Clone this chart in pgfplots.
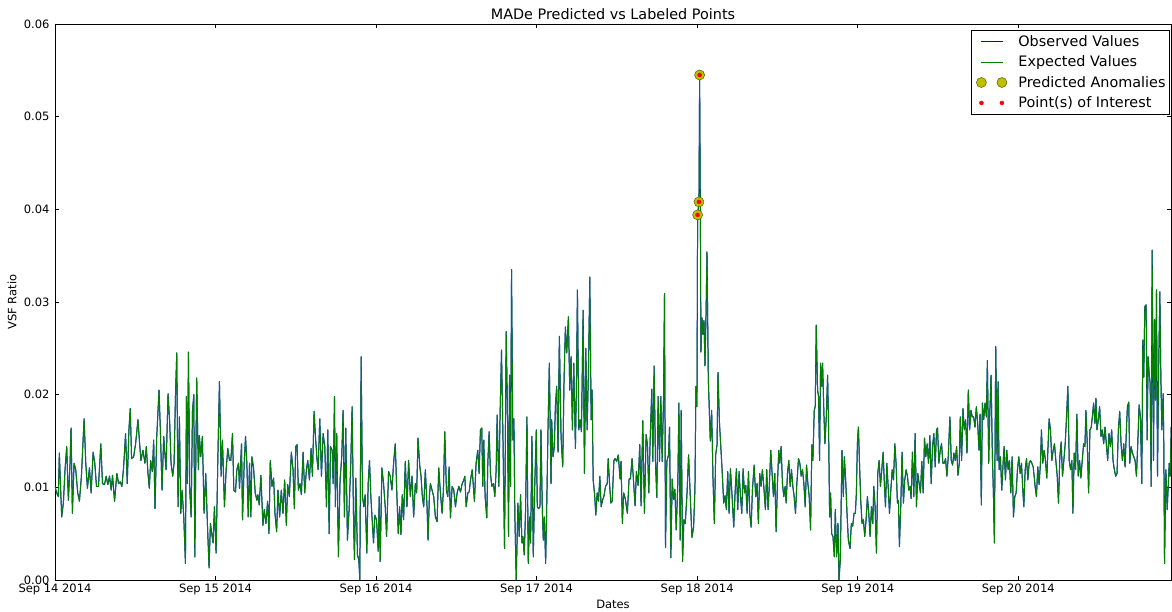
\documentclass[border=0pt]{standalone}
\usepackage{fontspec}
\setmainfont{DejaVu Sans}
\usepackage{pgfplots}
\usepackage{pgfplotstable}
\pgfplotsset{compat=1.18}
\definecolor{obsblue}{HTML}{0000FF}
\definecolor{expgreen}{HTML}{008000}
\definecolor{anomy}{HTML}{BFBF00}
\definecolor{anomedge}{HTML}{5A5A00}
\definecolor{poired}{HTML}{FF0000}
\pgfplotsset{
  linelegend/.style={legend image code/.code={\node[inner sep=0pt,minimum size=0pt] at (-8pt,0pt) {}; \node[inner sep=0pt,minimum size=0pt] at (32pt,0pt) {}; \draw[##1] (0pt,0pt) -- (21.6pt,0pt);}},
  marklegend/.style={legend image code/.code={\node[inner sep=0pt,minimum size=0pt] at (-8pt,0pt) {}; \node[inner sep=0pt,minimum size=0pt] at (32pt,0pt) {}; \draw[##1, only marks] plot coordinates {(0.5pt,0pt) (21pt,0pt)};}},
}
% time in minutes since Sep 14 2014 00:00, VSF ratio
\pgfplotstableread{
t v
0 0.0101
15 0.0094
30 0.0090
39 0.0137
60 0.0068
75 0.0083
90 0.0119
105 0.0144
120 0.0086
135 0.0126
144 0.0164
156 0.0072
171 0.0126
186 0.0119
204 0.0094
219 0.0085
237 0.0112
261 0.0174
276 0.0126
291 0.0099
309 0.0121
324 0.0094
342 0.0138
357 0.0126
372 0.0101
390 0.0101
411 0.0147
426 0.0104
444 0.0103
459 0.0112
474 0.0103
489 0.0112
504 0.0097
516 0.0113
534 0.0085
555 0.0115
570 0.0104
585 0.0106
600 0.0101
615 0.0121
633 0.0158
648 0.0104
663 0.0162
675 0.0185
687 0.0131
705 0.0133
723 0.0147
744 0.0173
759 0.0147
771 0.0129
789 0.0140
807 0.0126
819 0.0144
834 0.0115
846 0.0099
858 0.0129
873 0.0117
885 0.0151
897 0.0077
912 0.0153
933 0.0205
945 0.0162
960 0.0097
975 0.0155
996 0.0119
1014 0.0201
1029 0.0169
1041 0.0126
1056 0.0112
1068 0.0126
1080 0.0196
1092 0.0245
1104 0.0079
1116 0.0176
1128 0.0072
1140 0.0097
1155 0.0068
1170 0.0018
1179 0.0198
1188 0.0104
1197 0.0246
1209 0.0097
1221 0.0068
1233 0.0182
1245 0.0200
1254 0.0025
1271 0.0218
1286 0.0119
1295 0.0156
1307 0.0133
1322 0.0155
1337 0.0072
1352 0.0115
1367 0.0061
1382 0.0013
1394 0.0061
1406 0.0050
1418 0.0040
1430 0.0079
1445 0.0029
1460 0.0126
1475 0.0214
1490 0.0112
1502 0.0151
1520 0.0079
1535 0.0119
1550 0.0142
1565 0.0129
1577 0.0129
1592 0.0158
1604 0.0097
1619 0.0095
1631 0.0119
1646 0.0126
1655 0.0099
1673 0.0147
1682 0.0065
1697 0.0126
1709 0.0155
1721 0.0126
1733 0.0068
1745 0.0126
1757 0.0068
1766 0.0133
1781 0.0121
1796 0.0094
1811 0.0086
1820 0.0092
1832 0.0081
1847 0.0113
1865 0.0059
1877 0.0076
1892 0.0061
1907 0.0085
1919 0.0050
1931 0.0129
1946 0.0101
1961 0.0110
1973 0.0072
1988 0.0052
2000 0.0097
2015 0.0068
2030 0.0097
2045 0.0072
2060 0.0108
2075 0.0059
2087 0.0103
2102 0.0090
2120 0.0138
2135 0.0119
2147 0.0077
2159 0.0144
2171 0.0146
2183 0.0097
2198 0.0104
2210 0.0092
2225 0.0138
2240 0.0094
2255 0.0119
2267 0.0129
2282 0.0108
2297 0.0142
2309 0.0112
2324 0.0182
2336 0.0155
2351 0.0129
2360 0.0119
2375 0.0174
2390 0.0112
2405 0.0158
2420 0.0144
2435 0.0079
2447 0.0162
2459 0.0050
2471 0.0144
2486 0.0140
2495 0.0104
2507 0.0198
2515 0.0079
2527 0.0158
2542 0.0025
2557 0.0108
2572 0.0133
2584 0.0183
2596 0.0068
2608 0.0164
2623 0.0043
2638 0.0076
2653 0.0126
2665 0.0187
2677 0.0072
2686 0.0022
2698 0.0110
2713 0.0027
2725 0.0022
2734 0.0000
2746 0.0241
2758 0.0090
2770 0.0079
2782 0.0092
2797 0.0029
2809 0.0104
2821 0.0129
2833 0.0090
2845 0.0065
2857 0.0040
2869 0.0070
2884 0.0065
2899 0.0031
2908 0.0090
2917 0.0020
2932 0.0121
2947 0.0104
2962 0.0079
2974 0.0047
2992 0.0117
3007 0.0112
3022 0.0097
3037 0.0126
3052 0.0147
3067 0.0090
3079 0.0050
3091 0.0079
3103 0.0049
3115 0.0092
3127 0.0065
3142 0.0128
3157 0.0079
3172 0.0129
3187 0.0090
3202 0.0112
3217 0.0068
3232 0.0104
3244 0.0094
3256 0.0153
3271 0.0124
3283 0.0112
3295 0.0090
3307 0.0079
3322 0.0119
3337 0.0079
3346 0.0043
3358 0.0090
3367 0.0104
3382 0.0097
3397 0.0090
3412 0.0068
3427 0.0063
3442 0.0121
3457 0.0094
3472 0.0072
3484 0.0097
3496 0.0160
3511 0.0097
3523 0.0090
3535 0.0122
3547 0.0067
3562 0.0101
3577 0.0097
3592 0.0079
3607 0.0094
3622 0.0101
3637 0.0095
3652 0.0104
3667 0.0108
3676 0.0112
3688 0.0079
3703 0.0094
3715 0.0095
3727 0.0108
3742 0.0119
3757 0.0094
3762 0.0085
3777 0.0126
3792 0.0140
3804 0.0115
3816 0.0162
3828 0.0164
3837 0.0101
3846 0.0151
3858 0.0090
3873 0.0067
3882 0.0126
3894 0.0160
3906 0.0115
3918 0.0101
3933 0.0104
3945 0.0090
3957 0.0119
3966 0.0178
3981 0.0101
3993 0.0183
4005 0.0248
4017 0.0162
4032 0.0034
4047 0.0268
4059 0.0176
4068 0.0047
4077 0.0221
4086 0.0101
4095 0.0335
4107 0.0151
4116 0.0174
4125 0.0068
4137 0.0000
4152 0.0083
4164 0.0047
4176 0.0092
4188 0.0040
4197 0.0047
4209 0.0027
4221 0.0076
4233 0.0176
4245 0.0018
4257 0.0068
4266 0.0040
4278 0.0155
4290 0.0025
4302 0.0097
4317 0.0162
4326 0.0079
4338 0.0077
4350 0.0079
4359 0.0162
4371 0.0076
4380 0.0043
4389 0.0068
4401 0.0018
4410 0.0076
4422 0.0162
4434 0.0234
4449 0.0104
4455 0.0173
4467 0.0133
4479 0.0144
4488 0.0187
4500 0.0209
4512 0.0138
4524 0.0263
4539 0.0155
4554 0.0122
4566 0.0216
4578 0.0273
4590 0.0245
4605 0.0284
4617 0.0205
4629 0.0241
4641 0.0162
4653 0.0234
4668 0.0142
4677 0.0209
4686 0.0313
4698 0.0162
4710 0.0173
4722 0.0160
4737 0.0291
4749 0.0115
4761 0.0250
4773 0.0162
4785 0.0227
4797 0.0327
4809 0.0173
4818 0.0205
4827 0.0108
4839 0.0094
4851 0.0070
4863 0.0094
4875 0.0085
4887 0.0112
4899 0.0079
4911 0.0086
4923 0.0090
4938 0.0101
4953 0.0104
4962 0.0131
4974 0.0104
4986 0.0083
4998 0.0085
5013 0.0129
5023 0.0131
5038 0.0128
5053 0.0135
5068 0.0109
5077 0.0128
5089 0.0061
5101 0.0094
5116 0.0087
5134 0.0072
5149 0.0109
5161 0.0109
5176 0.0131
5188 0.0109
5203 0.0080
5215 0.0117
5230 0.0102
5245 0.0146
5257 0.0080
5272 0.0172
5287 0.0072
5302 0.0157
5314 0.0146
5326 0.0094
5338 0.0150
5353 0.0206
5362 0.0128
5374 0.0231
5386 0.0128
5398 0.0089
5410 0.0198
5422 0.0128
5434 0.0198
5446 0.0128
5458 0.0194
5467 0.0309
5476 0.0035
5488 0.0128
5503 0.0135
5512 0.0165
5524 0.0024
5536 0.0109
5548 0.0087
5560 0.0098
5572 0.0054
5587 0.0106
5596 0.0191
5608 0.0043
5617 0.0183
5629 0.0020
5641 0.0065
5653 0.0061
5668 0.0091
5683 0.0135
5698 0.0091
5713 0.0046
5728 0.0057
5740 0.0098
5749 0.0209
5758 0.0187
5764 0.0394
5776 0.0408
5782 0.0545
5788 0.0413
5794 0.0246
5803 0.0283
5812 0.0265
5821 0.0280
5830 0.0231
5839 0.0283
5848 0.0354
5860 0.0217
5869 0.0183
5878 0.0150
5890 0.0183
5902 0.0109
5914 0.0061
5926 0.0135
5938 0.0146
5947 0.0224
5959 0.0172
5971 0.0146
5983 0.0120
5998 0.0083
6010 0.0091
6022 0.0076
6034 0.0117
6046 0.0072
6058 0.0120
6073 0.0091
6088 0.0057
6100 0.0094
6112 0.0120
6124 0.0076
6136 0.0117
6148 0.0091
6160 0.0072
6172 0.0120
6184 0.0094
6196 0.0102
6208 0.0072
6220 0.0117
6232 0.0072
6244 0.0057
6256 0.0098
6271 0.0124
6285 0.0090
6297 0.0104
6309 0.0061
6321 0.0115
6333 0.0101
6345 0.0119
6360 0.0097
6372 0.0076
6384 0.0119
6396 0.0076
6408 0.0104
6420 0.0140
6432 0.0115
6444 0.0090
6456 0.0115
6468 0.0052
6480 0.0104
6492 0.0140
6501 0.0126
6513 0.0144
6525 0.0104
6537 0.0090
6549 0.0101
6558 0.0083
6570 0.0115
6582 0.0129
6594 0.0101
6606 0.0119
6618 0.0101
6630 0.0090
6642 0.0072
6654 0.0104
6669 0.0131
6681 0.0126
6693 0.0112
6705 0.0119
6717 0.0104
6729 0.0079
6741 0.0124
6753 0.0104
6765 0.0090
6777 0.0054
6789 0.0146
6798 0.0129
6810 0.0183
6819 0.0187
6828 0.0275
6840 0.0205
6849 0.0198
6858 0.0129
6867 0.0234
6876 0.0209
6885 0.0234
6897 0.0179
6906 0.0147
6918 0.0176
6930 0.0221
6939 0.0162
6948 0.0068
6957 0.0094
6966 0.0050
6978 0.0047
6990 0.0025
6999 0.0076
7011 0.0025
7023 0.0061
7032 0.0000
7044 0.0022
7059 0.0140
7071 0.0090
7080 0.0133
7092 0.0108
7104 0.0072
7116 0.0043
7131 0.0034
7143 0.0061
7155 0.0058
7167 0.0072
7179 0.0072
7188 0.0094
7197 0.0147
7206 0.0165
7218 0.0119
7227 0.0086
7239 0.0061
7251 0.0065
7263 0.0047
7275 0.0065
7287 0.0090
7299 0.0072
7311 0.0047
7323 0.0079
7335 0.0061
7344 0.0101
7356 0.0079
7368 0.0029
7380 0.0115
7392 0.0129
7404 0.0101
7416 0.0119
7428 0.0138
7440 0.0101
7449 0.0079
7461 0.0126
7473 0.0101
7485 0.0072
7497 0.0097
7509 0.0119
7521 0.0108
7533 0.0147
7544 0.0126
7556 0.0083
7565 0.0086
7574 0.0036
7586 0.0079
7598 0.0138
7610 0.0083
7622 0.0108
7634 0.0119
7646 0.0112
7658 0.0097
7670 0.0101
7679 0.0088
7691 0.0138
7703 0.0090
7715 0.0158
7727 0.0079
7739 0.0115
7751 0.0104
7763 0.0094
7775 0.0128
7787 0.0094
7799 0.0153
7811 0.0133
7823 0.0147
7835 0.0126
7847 0.0156
7859 0.0104
7871 0.0144
7883 0.0158
7895 0.0122
7907 0.0162
7916 0.0164
7928 0.0126
7940 0.0140
7952 0.0147
7964 0.0126
7976 0.0126
7988 0.0131
8000 0.0112
8012 0.0133
8027 0.0176
8039 0.0129
8051 0.0124
8063 0.0137
8075 0.0129
8087 0.0144
8099 0.0113
8111 0.0126
8120 0.0176
8132 0.0129
8144 0.0185
8156 0.0162
8168 0.0173
8180 0.0137
8192 0.0205
8204 0.0162
8216 0.0183
8228 0.0176
8240 0.0176
8252 0.0165
8264 0.0187
8276 0.0169
8288 0.0140
8297 0.0179
8309 0.0081
8318 0.0191
8330 0.0173
8342 0.0191
8354 0.0176
8363 0.0237
8375 0.0126
8384 0.0176
8396 0.0221
8408 0.0133
8417 0.0094
8426 0.0040
8438 0.0252
8450 0.0129
8459 0.0214
8468 0.0119
8480 0.0133
8492 0.0097
8504 0.0126
8513 0.0144
8525 0.0108
8537 0.0140
8549 0.0119
8561 0.0129
8573 0.0094
8585 0.0133
8597 0.0068
8609 0.0090
8621 0.0094
8633 0.0119
8645 0.0133
8657 0.0115
8669 0.0126
8681 0.0097
8690 0.0079
8702 0.0119
8714 0.0131
8726 0.0108
8738 0.0126
8750 0.0129
8762 0.0126
8774 0.0122
8786 0.0108
8791 0.0101
8803 0.0090
8815 0.0122
8827 0.0103
8839 0.0126
8848 0.0162
8860 0.0126
8872 0.0140
8884 0.0129
8896 0.0110
8908 0.0147
8917 0.0174
8929 0.0162
8941 0.0129
8953 0.0140
8965 0.0147
8977 0.0129
8989 0.0113
9001 0.0083
9013 0.0133
9025 0.0149
9037 0.0112
9049 0.0129
9061 0.0147
9073 0.0176
9085 0.0209
9097 0.0129
9109 0.0119
9121 0.0129
9130 0.0072
9142 0.0137
9154 0.0119
9166 0.0179
9178 0.0112
9190 0.0129
9202 0.0110
9214 0.0129
9226 0.0147
9238 0.0144
9247 0.0183
9259 0.0147
9271 0.0094
9283 0.0162
9295 0.0165
9307 0.0179
9316 0.0191
9328 0.0169
9337 0.0196
9346 0.0162
9358 0.0173
9370 0.0187
9382 0.0155
9394 0.0162
9406 0.0147
9418 0.0165
9430 0.0147
9442 0.0129
9454 0.0158
9466 0.0144
9478 0.0162
9490 0.0129
9502 0.0119
9514 0.0112
9526 0.0115
9538 0.0162
9550 0.0182
9562 0.0147
9574 0.0129
9586 0.0147
9598 0.0122
9610 0.0162
9619 0.0187
9631 0.0192
9640 0.0126
9652 0.0144
9664 0.0137
9676 0.0133
9688 0.0129
9700 0.0112
9712 0.0147
9724 0.0189
9736 0.0176
9748 0.0104
9757 0.0259
9766 0.0219
9775 0.0295
9787 0.0297
9796 0.0151
9805 0.0241
9814 0.0223
9823 0.0212
9832 0.0101
9841 0.0356
9853 0.0129
9862 0.0281
9871 0.0194
9880 0.0313
9889 0.0112
9898 0.0216
9910 0.0311
9919 0.0219
9928 0.0162
9940 0.0201
9946 0.0140
9952 0.0018
9964 0.0119
9976 0.0076
9985 0.0101
9994 0.0126
10003 0.0112
10012 0.0165
10021 0.0162
}\vsfdata
\pgfplotstableread{
t v
5764 0.0394
5776 0.0408
5782 0.0545
}\anomdata
\begin{document}
\begin{tikzpicture}
\useasboundingbox (-55pt,-31pt) rectangle (1117pt,580pt);
\begin{axis}[
  scale only axis,
  width=1116pt, height=556pt,
  at={(0pt,0pt)}, anchor=south west,
  xmin=0, xmax=10010,
  ymin=0, ymax=0.06,
  scaled ticks=false,
  xtick={0,1440,2880,4320,5760,7200,8640},
  xticklabels={Sep 14 2014,Sep 15 2014,Sep 16 2014,Sep 17 2014,Sep 18 2014,Sep 19 2014,Sep 20 2014},
  ytick={0,0.01,0.02,0.03,0.04,0.05,0.06},
  yticklabels={0.00,0.01,0.02,0.03,0.04,0.05,0.06},
  tick align=inside,
  major tick length=4pt,
  minor tick num=0,
  axis line style={black, line width=0.9pt},
  every tick/.style={black, line width=0.8pt},
  ticklabel style={font=\fontsize{11.5}{13}\selectfont},
  yticklabel style={xshift=-2pt},
  /pgf/number format/assume math mode=true,
  title={MADe Predicted vs Labeled Points},
  title style={font=\fontsize{14.4}{16}\selectfont, at={(axis description cs:0.5,1)}, anchor=base, yshift=-2pt},
  xlabel={Dates},
  xlabel style={font=\fontsize{11.5}{13}\selectfont, at={(axis description cs:0.5,-0.0432)}, anchor=center},
  ylabel={VSF Ratio},
  ylabel style={font=\fontsize{11.5}{13}\selectfont, at={(axis description cs:-0.0385,0.5)}, anchor=center},
  legend cell align=left,
  legend style={at={(1,1)}, anchor=north east, xshift=-1pt, yshift=-6pt,
    draw=black, line width=0.8pt, font=\fontsize{14.4}{16}\selectfont,
    row sep=4pt, inner xsep=2pt, inner ysep=3pt,
    /tikz/every odd column/.append style={column sep=3pt}},
  clip=true,
]
\addplot[obsblue, line width=1.0pt, line join=round, no markers, linelegend]
  table[x=t,y=v] {\vsfdata};
\addlegendentry{Observed Values}
\addplot[expgreen, line width=0.95pt, line join=round, no markers, linelegend]
  table[x=t,y=v] {\vsfdata};
\addlegendentry{Expected Values}
\addplot[only marks, mark=*, mark size=5pt, mark options={fill=anomy, draw=anomedge, line width=0.5pt}, marklegend]
  table[x=t,y=v] {\anomdata};
\addlegendentry{Predicted Anomalies}
\addplot[only marks, mark=*, mark size=2.1pt, mark options={fill=poired, draw=poired, line width=0.2pt}, marklegend]
  table[x=t,y=v] {\anomdata};
\addlegendentry{Point(s) of Interest}
\end{axis}
\end{tikzpicture}
\end{document}
